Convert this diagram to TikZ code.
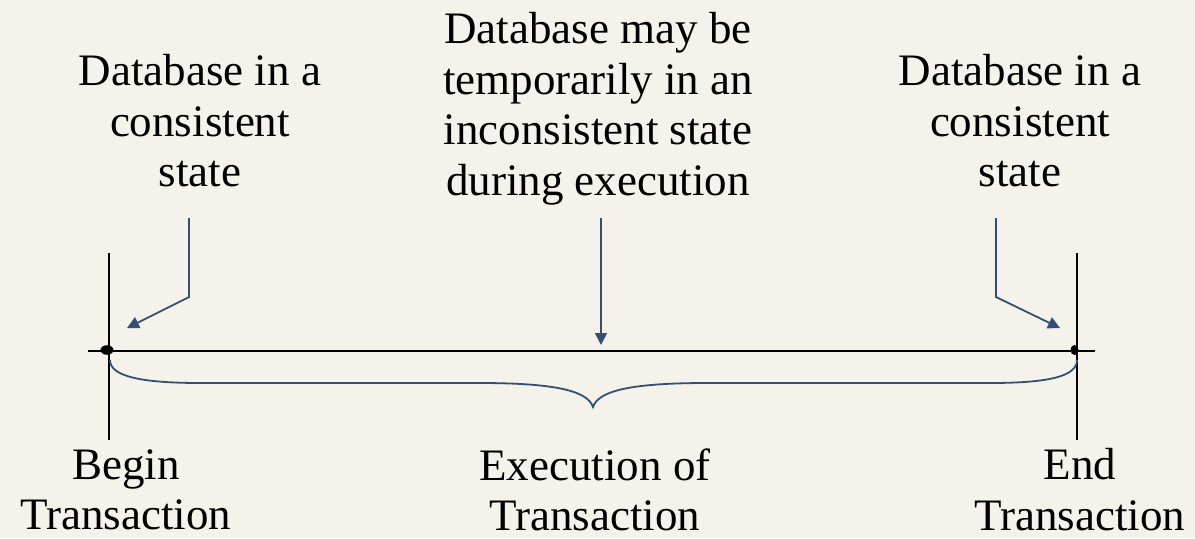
\documentclass[tikz,border=0pt]{standalone}
\usepackage{fontspec}
\setmainfont{Liberation Serif}
\usetikzlibrary{arrows.meta}

\definecolor{paper}{RGB}{245,242,235}
\definecolor{pointer}{RGB}{52,80,112}

\tikzset{
  txt/.style={align=center, inner sep=0pt, anchor=north,
              font=\fontsize{22.5}{25.3}\selectfont},
  axis/.style={black, line width=1pt},
  ptr/.style={pointer, line width=0.9pt,
              -{Triangle[length=6pt,width=6pt]}},
  brace/.style={pointer, line width=0.9pt}
}

\begin{document}
\begin{tikzpicture}[x=0.5pt, y=-0.5pt]
  % page background
  \fill[paper] (0,0) rectangle (1195,538);
  \useasboundingbox (0,0) rectangle (1195,538);

  % labels
  \node[txt] (lefttop)  at (200,54)  {Database in a\\consistent\\state};
  \node[txt] (midtop)   at (598,12)  {Database may be\\temporarily in an\\inconsistent state\\during execution};
  \node[txt] (righttop) at (1020,54) {Database in a\\consistent\\state};
  \node[txt] (begin)    at (126,449) {Begin\\Transaction};
  \node[txt] (exec)     at (595,448) {Execution of\\Transaction};
  \node[txt] (end)      at (1080,448) {End\\Transaction};

  % time line and the two boundary marks
  \coordinate (axisL) at (88,351);
  \coordinate (axisR) at (1095,351);
  \coordinate (beginT) at (109,253);
  \coordinate (beginB) at (109,440);
  \coordinate (endT)   at (1077,253);
  \coordinate (endB)   at (1077,440);
  \draw[axis] (axisL) -- (axisR);
  \draw[axis] (beginT) -- (beginB);
  \draw[axis] (endT) -- (endB);
  \fill (107,350) ellipse [x radius=6.5, y radius=4.8];
  \fill (1074.5,350) ellipse [x radius=4, y radius=5];

  % pointers from the labels down to the line
  \coordinate (lstart) at (189,218);
  \coordinate (lbend)  at (189,297);
  \coordinate (ltip)   at (127,328);
  \coordinate (mstart) at (601,218);
  \coordinate (mtip)   at (601,345);
  \coordinate (rstart) at (996,218);
  \coordinate (rbend)  at (996,297);
  \coordinate (rtip)   at (1060,328);
  \draw[ptr] (lstart) -- (lbend) -- (ltip);
  \draw[ptr] (mstart) -- (mtip);
  \draw[ptr] (rstart) -- (rbend) -- (rtip);

  % brace spanning the execution
  \coordinate (braceL) at (110,360);
  \coordinate (braceM) at (593,407);
  \coordinate (braceR) at (1077,360);
  \draw[brace] (braceL) .. controls (110,376) and (140,383) .. (200,383)
    -- (480,383) .. controls (560,383) and (588,392) .. (braceM)
    .. controls (598,392) and (626,383) .. (706,383)
    -- (990,383) .. controls (1050,383) and (1077,376) .. (braceR);
\end{tikzpicture}
\end{document}
